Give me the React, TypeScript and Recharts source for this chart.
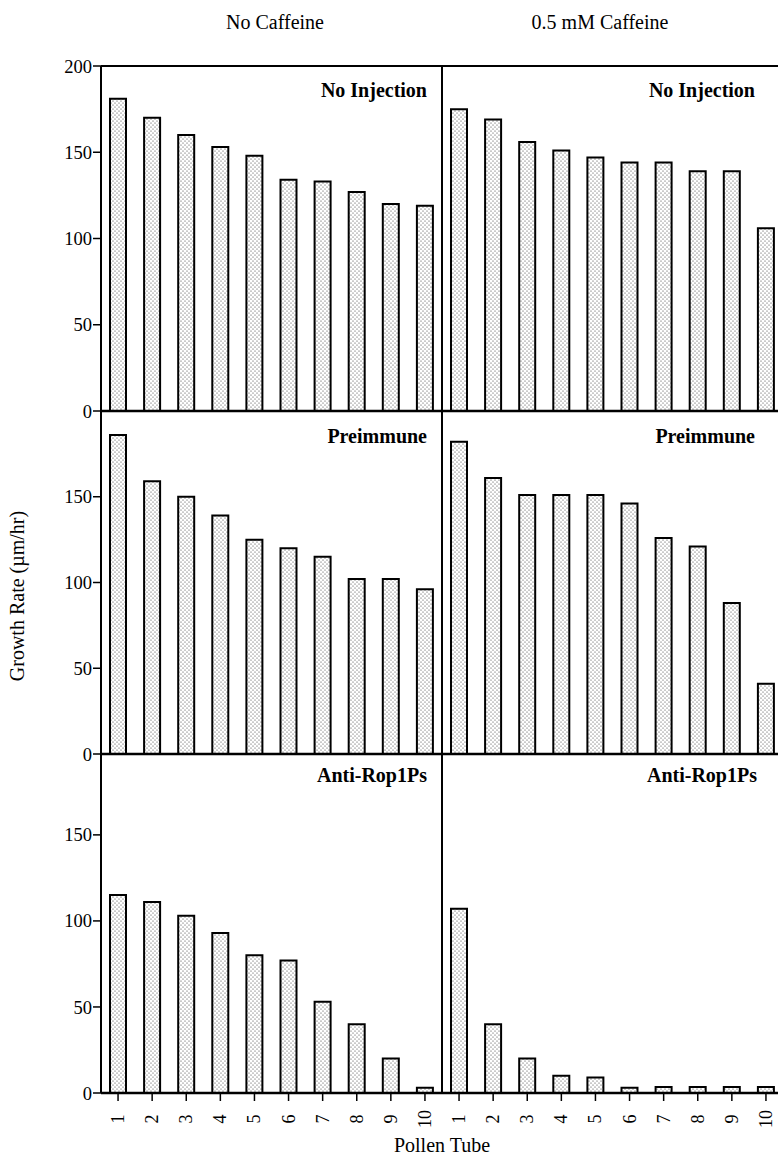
import { BarChart, Bar, XAxis, YAxis, ReferenceLine } from 'recharts'

// pollen tube numbers along the x axis
const tubes = ['1', '2', '3', '4', '5', '6', '7', '8', '9', '10']

// growth rates (um/hr)
const noCafNoInj = [181, 170, 160, 153, 148, 134, 133, 127, 120, 119]
const cafNoInj = [175, 169, 156, 151, 147, 144, 144, 139, 139, 106]
const noCafPre = [186, 159, 150, 139, 125, 120, 115, 102, 102, 96]
const cafPre = [182, 161, 151, 151, 151, 146, 126, 121, 88, 41]
const noCafAnti = [115, 111, 103, 93, 80, 77, 53, 40, 20, 3]
const cafAnti = [107, 40, 20, 10, 9, 3, 3.5, 3.5, 3.5, 3.5]

const topTicks = [0, 50, 100, 150, 200]
const lowTicks = [0, 50, 100, 150]

const FONT = '"Liberation Serif", "Times New Roman", serif'

const RotTick = (props: any) => {
  const { x, y, payload } = props
  return (
    <text
      x={0}
      y={0}
      transform={`translate(${x},${y + 16}) rotate(-90)`}
      textAnchor="middle"
      dominantBaseline="central"
      fontSize={18}
      fontFamily={FONT}
      fill="#000"
    >
      {payload.value}
    </text>
  )
}

interface PanelProps {
  id: string
  values: number[]
  left: number
  top: number
  plotHeight: number
  side: 'left' | 'right'
  ticks: number[]
  domainMax: number
  showX?: boolean
  topLine?: boolean
}

function Panel({ id, values, left, top, plotHeight, side, ticks, domainMax, showX, topLine }: PanelProps) {
  const data = tubes.map((t, i) => ({ tube: t, v: values[i] }))
  const isLeft = side === 'left'
  const yWidth = isLeft ? 101 : 1
  const marginLeft = isLeft ? 0 : 9
  const width = marginLeft + yWidth + 341
  const xHeight = showX ? 60 : 0
  const height = 10 + plotHeight + (showX ? xHeight : 10)

  return (
    <div style={{ position: 'absolute', left, top }}>
      <BarChart
        width={width}
        height={height}
        data={data}
        margin={{ top: 10, right: 0, bottom: showX ? 0 : 10, left: marginLeft }}
        barSize={16}
      >
        <defs>
          <pattern id={id} width="4" height="4" patternUnits="userSpaceOnUse">
            <rect width="4" height="4" fill="#fff" />
            <circle cx="1" cy="1" r="0.5" fill="#111" />
            <circle cx="3" cy="3" r="0.5" fill="#111" />
          </pattern>
        </defs>
        <XAxis
          dataKey="tube"
          hide={!showX}
          height={xHeight}
          interval={0}
          axisLine={false}
          tickSize={8}
          tickLine={{ stroke: '#000', strokeWidth: 1.5 }}
          tick={<RotTick />}
        />
        <YAxis
          type="number"
          domain={[0, domainMax]}
          ticks={ticks}
          interval={0}
          allowDataOverflow
          width={yWidth}
          axisLine={{ stroke: '#000', strokeWidth: 2 }}
          tickSize={8}
          tickMargin={1}
          tickLine={isLeft ? { stroke: '#000', strokeWidth: 1.5 } : false}
          tick={isLeft ? { fill: '#000', fontSize: 18.5, fontFamily: FONT } : false}
        />
        <ReferenceLine y={0} stroke="#000" strokeWidth={2.5} ifOverflow="visible" />
        {topLine && <ReferenceLine y={domainMax} stroke="#000" strokeWidth={2} />}
        <Bar dataKey="v" fill={`url(#${id})`} stroke="#000" strokeWidth={2} isAnimationActive={false} />
      </BarChart>
    </div>
  )
}

export default function App() {
  const labelStyle = { fontFamily: FONT, fontWeight: 700, fontSize: 20, fill: '#000' }
  return (
    <div
      style={{
        position: 'absolute',
        left: 0,
        top: 0,
        width: 778,
        height: 1168,
        overflow: 'hidden',
        background: '#fff',
      }}
    >
      <Panel id="p1" values={noCafNoInj} left={0} top={56} plotHeight={345} side="left" ticks={topTicks} domainMax={200} topLine />
      <Panel id="p2" values={cafNoInj} left={432} top={56} plotHeight={345} side="right" ticks={topTicks} domainMax={200} topLine />
      <Panel id="p3" values={noCafPre} left={0} top={401} plotHeight={343} side="left" ticks={lowTicks} domainMax={200} />
      <Panel id="p4" values={cafPre} left={432} top={401} plotHeight={343} side="right" ticks={lowTicks} domainMax={200} />
      <Panel id="p5" values={noCafAnti} left={0} top={744} plotHeight={339} side="left" ticks={lowTicks} domainMax={197} showX />
      <Panel id="p6" values={cafAnti} left={432} top={744} plotHeight={339} side="right" ticks={lowTicks} domainMax={197} showX />

      <svg
        width={778}
        height={1168}
        style={{ position: 'absolute', left: 0, top: 0, pointerEvents: 'none' }}
      >
        <text x={275} y={29} textAnchor="middle" fontFamily={FONT} fontSize={20}>No Caffeine</text>
        <text x={600} y={29} textAnchor="middle" fontFamily={FONT} fontSize={20}>0.5 mM Caffeine</text>

        <text x={427} y={97} textAnchor="end" style={labelStyle}>No Injection</text>
        <text x={755} y={97} textAnchor="end" style={labelStyle}>No Injection</text>
        <text x={427} y={443} textAnchor="end" style={labelStyle}>Preimmune</text>
        <text x={755} y={443} textAnchor="end" style={labelStyle}>Preimmune</text>
        <text x={427} y={782} textAnchor="end" style={labelStyle}>Anti-Rop1Ps</text>
        <text x={757} y={782} textAnchor="end" style={labelStyle}>Anti-Rop1Ps</text>

        <text
          transform="translate(17,596) rotate(-90)"
          textAnchor="middle"
          dominantBaseline="central"
          fontFamily={FONT}
          fontSize={20}
        >
          Growth Rate (µm/hr)
        </text>
        <text x={442} y={1152} textAnchor="middle" fontFamily={FONT} fontSize={20}>Pollen Tube</text>
      </svg>
    </div>
  )
}
